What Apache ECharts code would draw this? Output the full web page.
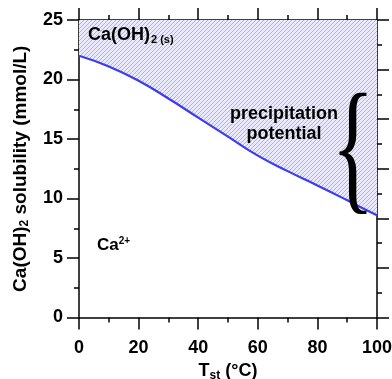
<!DOCTYPE html>
<html>
<head>
<meta charset="utf-8">
<script src="https://cdn.jsdelivr.net/npm/echarts@6/dist/echarts.min.js"></script>
<style>
  html, body { margin: 0; padding: 0; background: #fff; }
  #chart { width: 392px; height: 379px; }
</style>
</head>
<body>
<div id="chart"></div>
<script>
// temperature (°C) and Ca(OH)2 solubility (mmol/L)
const temps = [0, 10, 20, 30, 40, 50, 60, 70, 80, 90, 95, 100]
const solubility = [22.0, 21.1, 19.9, 18.4, 16.8, 15.2, 13.6, 12.3, 11.1, 9.85, 9.2, 8.6]

const FONT = 'Liberation Sans, Arial, sans-serif'

// hatch pattern for the precipitation area
const hatch = document.createElement('canvas')
hatch.width = 4
hatch.height = 4
const hc = hatch.getContext('2d')
hc.fillStyle = '#eaeafc'
hc.fillRect(0, 0, 4, 4)
hc.strokeStyle = '#aeaeec'
hc.lineWidth = 1
hc.beginPath()
hc.moveTo(0, 4); hc.lineTo(4, 0)
hc.moveTo(-1, 1); hc.lineTo(1, -1)
hc.moveTo(3, 5); hc.lineTo(5, 3)
hc.stroke()

const chart = echarts.init(document.getElementById('chart'))

const axisCommon = {
    axisLine: { onZero: false, lineStyle: { color: '#000', width: 1.5 } },
    axisTick: { inside: false, length: 12, lineStyle: { color: '#000', width: 1.5 } },
    minorTick: { show: true, splitNumber: 2, length: 5, lineStyle: { color: '#000', width: 1.5 } },
    splitLine: { show: false }
}

chart.setOption({
    animation: false,
    grid: { left: 79, right: 15, top: 20, bottom: 61.5, containLabel: false, outerBoundsMode: 'none' },
    xAxis: [
        {
            type: 'value', min: 0, max: 100, interval: 20, position: 'bottom',
            ...axisCommon,
            axisLabel: { color: '#000', fontSize: 18, fontWeight: 'bold', fontFamily: FONT, margin: 22 },
            name: '{b|T}{sub|st}{b| (°C)}',
            nameLocation: 'middle',
            nameGap: 40,
            nameTextStyle: {
                rich: {
                    b: { fontSize: 18, fontWeight: 'bold', fontFamily: FONT, color: '#000' },
                    sub: { fontSize: 12, fontWeight: 'bold', fontFamily: FONT, color: '#000', verticalAlign: 'bottom', padding: [8, 0, 0, 0] }
                }
            }
        },
        {
            type: 'value', min: 0, max: 100, interval: 20, position: 'top',
            ...axisCommon,
            axisLabel: { show: false }
        }
    ],
    yAxis: [
        {
            type: 'value', min: 0, max: 25, interval: 5, position: 'left',
            ...axisCommon,
            axisLabel: { color: '#000', fontSize: 18, fontWeight: 'bold', fontFamily: FONT, margin: 16 },
            name: '{b|Ca(OH)}{sub|2}{b| solubility (mmol/L)}',
            nameLocation: 'middle',
            nameGap: 48,
            nameRotate: 90,
            nameTextStyle: {
                rich: {
                    b: { fontSize: 19, fontWeight: 'bold', fontFamily: FONT, color: '#000' },
                    sub: { fontSize: 12, fontWeight: 'bold', fontFamily: FONT, color: '#000', verticalAlign: 'bottom', padding: [8, 0, 0, 0] }
                }
            }
        },
        {
            type: 'value', min: 0, max: 6, interval: 1, position: 'right',
            ...axisCommon,
            axisLabel: { show: false }
        }
    ],
    series: [
        {
            type: 'line',
            xAxisIndex: 0,
            yAxisIndex: 0,
            data: temps.map((t, i) => [t, solubility[i]]),
            smooth: true,
            showSymbol: false,
            lineStyle: { color: '#3c3cf0', width: 2.2 },
            areaStyle: { origin: 'end', color: { image: hatch, repeat: 'repeat' }, opacity: 1 },
            z: 1
        }
    ],
    graphic: [
        {
            type: 'text', left: 88, top: 26, z: 10,
            style: {
                text: '{b|Ca(OH)}{sub|2 (s)}',
                rich: {
                    b: { fontSize: 18, fontWeight: 'bold', fontFamily: FONT, fill: '#000' },
                    sub: { fontSize: 11, fontWeight: 'bold', fontFamily: FONT, fill: '#000', verticalAlign: 'bottom', padding: [10, 0, 0, 1] }
                }
            }
        },
        {
            type: 'text', left: 97, top: 236, z: 10,
            style: {
                text: '{b|Ca}{sup|2+}',
                rich: {
                    b: { fontSize: 17, fontWeight: 'bold', fontFamily: FONT, fill: '#000' },
                    sup: { fontSize: 10, fontWeight: 'bold', fontFamily: FONT, fill: '#000', verticalAlign: 'top', padding: [0, 0, 8, 0] }
                }
            }
        },
        {
            type: 'text', x: 284, y: 124, z: 10,
            style: {
                text: 'precipitation\npotential',
                font: 'bold 18px ' + FONT,
                fill: '#000',
                align: 'center',
                verticalAlign: 'middle',
                lineHeight: 20
            }
        },
        {
            type: 'text', x: 353, y: 156, z: 10, scaleX: 0.62,
            style: {
                text: '{',
                font: '146px "Liberation Serif", "Times New Roman", serif',
                fill: '#000',
                align: 'center',
                verticalAlign: 'middle'
            }
        }
    ]
})
</script>
</body>
</html>
